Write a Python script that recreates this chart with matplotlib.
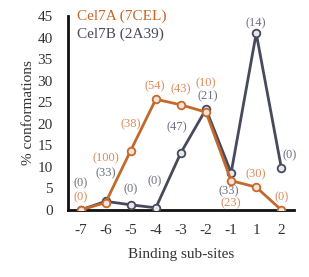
import matplotlib.pyplot as plt

plt.rcParams['font.family'] = ['Liberation Serif', 'DejaVu Serif']

sites = ['-7', '-6', '-5', '-4', '-3', '-2', '-1', '1', '2']
cel7a = [0, 1.7, 13.8, 25.7, 24.4, 22.7, 6.8, 5.3, 0]
cel7b = [0, 2.0, 1.2, 0.5, 13.3, 23.4, 8.6, 41.0, 9.8]
cel7a_n = ['(0)', '(100)', '(38)', '(54)', '(43)', '(10)', '(23)', '(30)', '(0)']
cel7b_n = ['(0)', '(33)', '(0)', '(0)', '(47)', '(21)', '(33)', '(14)', '(0)']

orange = '#C4692B'
slate = '#474A5C'
orange_lbl = '#D98B5C'
slate_lbl = '#6E7182'

# label offsets (points) relative to each marker
off_a = [(0, 9), (0, 32), (0, 19), (-1, 9), (0, 11), (0, 21), (0, -16), (0, 9), (0, 9)]
off_b = [(0, 19), (0, 20), (0, 11), (-1, 19), (-3, 18), (1, 9), (-2, -13), (0, 7), (6, 9)]

fig = plt.figure(figsize=(3.09, 2.77), dpi=100)
ax = fig.add_axes([0.220, 0.242, 0.731, 0.700])

x = list(range(len(sites)))
ax.plot(x, cel7b, color=slate, lw=2.0, marker='o', ms=5.5, mfc='#e8e8ec', mec=slate, mew=1.3, zorder=3)
ax.plot(x, cel7a, color=orange, lw=2.0, marker='o', ms=5.5, mfc='#f3e3d8', mec=orange, mew=1.3, zorder=4)

for i in x:
    ax.annotate(cel7a_n[i], (i, cel7a[i]), xytext=off_a[i], textcoords='offset points',
                ha='center', va='center', fontsize=9, color=orange_lbl)
    ax.annotate(cel7b_n[i], (i, cel7b[i]), xytext=off_b[i], textcoords='offset points',
                ha='center', va='center', fontsize=9, color=slate_lbl)

ax.set_xlim(-0.5, 8.5)
ax.set_ylim(0, 45)
ax.set_xticks(x)
ax.set_xticklabels(sites)
ax.set_yticks(range(0, 46, 5))
ax.tick_params(length=0, labelsize=11, colors='#333333')
ax.tick_params(axis='y', pad=11)
ax.tick_params(axis='x', pad=10)
for s in ['top', 'right']:
    ax.spines[s].set_visible(False)
for s in ['left', 'bottom']:
    ax.spines[s].set_linewidth(2.0)
    ax.spines[s].set_color('#111111')

ax.set_xlabel('Binding sub-sites', fontsize=11, color='#333333', labelpad=8)
ax.set_ylabel('% conformations', fontsize=11, color='#333333', labelpad=2)

ax.text(0.04, 1.0, 'Cel7A (7CEL)', transform=ax.transAxes, fontsize=11, color=orange, va='center')
ax.text(0.04, 0.905, 'Cel7B (2A39)', transform=ax.transAxes, fontsize=11, color=slate, va='center')

plt.savefig('out.png', dpi=100)
